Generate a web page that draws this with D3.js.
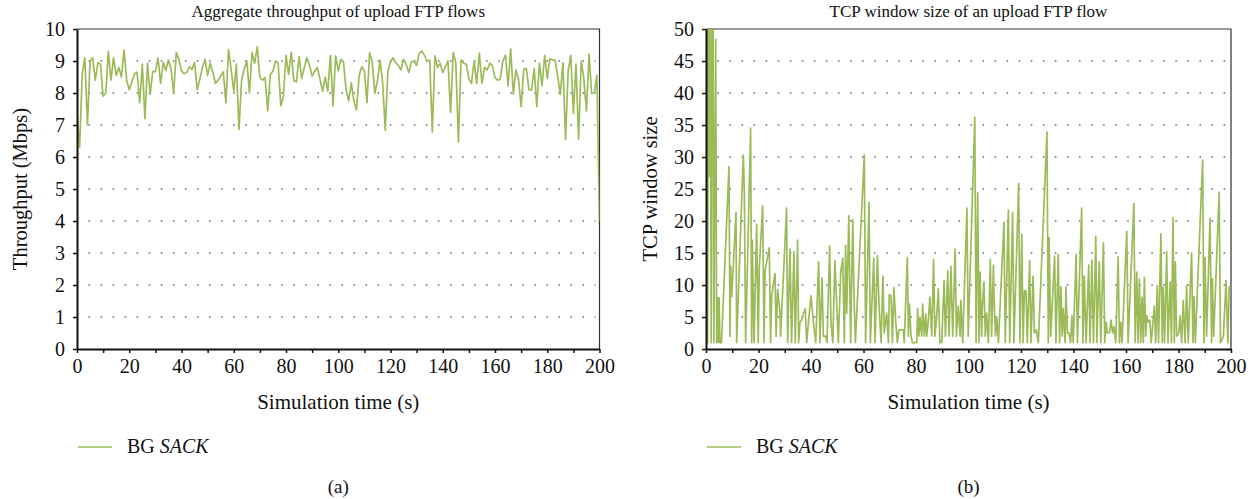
<!DOCTYPE html>
<html><head><meta charset="utf-8">
<script src="https://cdn.jsdelivr.net/npm/d3@7"></script>
<style>
body{margin:0;background:#fff;}
svg{display:block;}
svg text{font-family:"Liberation Serif","Times New Roman",serif !important;}
</style></head><body>
<svg id="chart" width="1257" height="499"></svg>
<script>
// ---------- data ----------
const seriesName = "BG";
const seriesNameItalic = "SACK";
const xTicks = [0,10,20,30,40,50,60,70,80,90,100,110,120,130,140,150,160,170,180,190,200];
const yTicksA = [0,1,2,3,4,5,6,7,8,9,10];
const yTicksB = [0,5,10,15,20,25,30,35,40,45,50];

// (a) aggregate throughput, one sample per second, t = 0..200 s
const throughput = [
7.39,6.3,8.6,9.1,7.0,9.0,9.1,8.4,8.95,8.9,
7.9,8.0,9.3,8.4,9.1,8.55,8.8,8.5,9.35,8.4,
8.1,8.35,8.6,8.65,7.7,8.9,7.2,8.93,7.96,8.67,
8.67,9.1,8.3,8.95,8.7,9.03,8.75,7.98,9.26,9.05,
8.69,8.6,8.64,8.82,8.74,8.95,8.1,8.43,8.8,9.05,
8.55,8.93,8.64,8.3,8.4,8.53,8.66,7.7,9.36,8.74,
8.06,8.9,6.86,8.4,8.74,9.0,8.0,9.26,8.93,9.45,
8.48,8.4,8.48,7.44,8.58,8.69,9.0,8.93,7.6,7.9,
9.18,8.58,9.28,8.38,8.35,9.14,8.45,8.8,9.1,8.86,
8.53,8.69,8.8,8.43,8.06,8.5,8.06,9.18,7.6,9.16,
8.69,9.05,8.97,8.1,7.75,8.32,7.75,7.47,8.55,8.82,
8.69,7.7,9.26,8.97,7.99,8.38,9.03,8.32,6.84,8.69,
8.97,9.1,8.95,8.86,8.72,9.05,8.9,8.64,8.97,9.0,
8.86,9.24,9.31,9.18,9.0,9.03,6.78,9.16,8.8,8.93,
8.64,8.82,9.0,7.39,9.26,8.95,6.47,9.03,8.93,8.9,
8.43,8.3,9.0,8.3,9.24,8.3,8.8,8.72,8.93,8.86,
8.48,8.4,8.43,9.0,9.18,8.22,9.38,7.96,8.72,8.43,
7.57,8.74,8.76,8.1,8.1,8.76,7.57,8.93,8.22,9.18,
8.45,9.07,9.03,9.03,8.53,7.96,8.95,6.55,8.69,9.18,
7.36,8.9,6.55,9.0,8.45,7.44,9.21,7.99,8.0,8.55,
4.0];

// (b) TCP window size samples (time in s, window size)
const windowTime = [
0,0.3,0.6,0.9,1.3,1.6,2.0,2.3,2.7,3.0,3.3,3.7,4.06,4.4,4.7,5.0,5.3,5.9,
8.76,9.14,9.4,9.78,11.43,11.68,14.22,14.6,15.1,17.0,17.4,17.65,18.29,19.3,19.9,20.3,21.6,22.1,22.5,24.1,24.6,25.0,26.3,26.7,27.3,28.2,28.4,
30.7,31.1,32.0,32.6,33.5,34.0,34.9,35.3,35.8,36.4,37.1,37.8,38.35,39.1,40.0,40.6,41.1,41.8,42.9,43.4,44.2,44.7,45.5,46.1,47.1,47.6,48.3,49.1,49.8,50.4,
51.3,52.1,52.7,53.2,53.6,54.4,55.1,55.9,56.4,56.9,60.3,60.8,62.1,62.6,63.9,64.4,65.3,65.9,66.7,67.4,67.9,68.8,69.5,69.8,70.5,71.0,71.6,72.3,72.9,73.5,75.2,75.5,
76.7,77.1,77.5,78.1,78.6,80.3,80.6,81.1,81.5,82.2,82.5,83.2,83.7,84.1,84.7,85.3,86.0,86.7,87.2,87.9,88.5,89.1,89.8,90.7,91.2,92.1,92.6,93.3,94.0,94.9,95.4,96.1,96.8,97.1,97.8,
99.4,99.9,102.4,102.9,103.5,104.0,104.4,105.0,105.3,105.9,106.4,106.9,107.6,108.3,108.8,109.5,109.8,110.3,110.8,111.4,113.5,114.0,115.2,115.7,116.8,117.3,119.1,119.6,120.3,120.8,121.3,121.9,122.4,123.3,123.8,124.6,125.1,125.8,126.6,
129.9,130.4,130.7,131.3,132.8,133.3,134.2,134.7,135.2,135.7,136.1,136.8,137.1,137.7,138.3,138.9,139.4,139.9,141.0,141.5,143.1,143.6,144.1,144.8,145.8,146.3,147.0,147.6,148.5,148.9,149.8,150.4,
151.4,151.9,152.4,152.9,153.7,154.3,154.9,155.4,156.1,157.0,157.5,158.0,158.5,160.3,160.8,163.0,163.5,164.1,164.6,165.1,165.6,166.1,166.6,167.0,167.5,167.9,168.5,169.1,169.6,170.8,171.3,171.9,172.4,
173.3,173.8,174.2,174.7,175.5,176.0,176.8,177.3,177.9,178.4,178.8,179.3,180.1,180.6,181.2,181.8,182.5,183.1,183.7,185.0,185.5,185.9,186.4,189.2,189.7,190.1,190.7,192.0,192.6,192.9,193.4,195.5,196.0,197.1,198.1,198.8,199.3,200];
const windowSize = [
16,50,1,50,27,50,1,50,50,1,24,48.4,1,8,1,8,1,1,
28.5,2,12.9,8.2,21.3,1,30.3,24.8,1,34.5,1,17,1,19.5,1,12.7,22.4,1,12.2,15.8,1,8.3,11.8,2,9.3,5.6,2,
22,1,15.6,1,15.2,1,17,1,4.2,4.5,5.6,6.3,1,4.5,8.3,5.6,3.5,1,13.6,1,11.1,2,2,1,16.1,4.2,1,13.8,7,1,
11.9,14.2,1,16.2,5.6,20.8,1,20.2,8.2,1,30.3,1,22.9,1,14.2,1,14.6,7,1,11.4,2.5,5.6,1,8.5,8.3,1,9.6,4.2,1,3,3,1,
14.3,2,7,2,1,1,6.3,2,5,2,7,2,5.5,2,4.5,8.1,2,14,2,5.2,9.4,1,1,10.7,2,12.2,2,12.9,2,15.6,2,6.7,2,7.6,1,
22,2,36.2,1,24.4,1,12,2,6.7,10.5,2,5.6,1,14,2,13.1,7,2,5,1,19.8,1,21.7,1,21.3,1,25.9,1,17.9,1,9.1,9.1,1,13.8,1,11.4,2.5,3,1,
33.9,1,17.4,2,14.5,1,14.8,1,9.7,2,6.3,1,9.7,2.5,2.5,1,5.2,1,14.8,1,22,1,11.4,1,13.1,1,13.9,1,17.6,1,13.6,1,
16.6,1,4.2,2.5,2.5,4.5,2.5,3.5,1,14.4,1,4.2,1,18.4,1,22.7,1,12,1,10.9,1,8.1,1,11.2,2,5.2,4.2,4.5,1,6.7,1,9.9,1,
18,1,9.6,1,15.2,1,10.5,1,20.5,1,13.6,2,2.5,5.2,1,7.6,1,9.9,1,15,1,8.2,1,29.5,1,14.3,2,20.4,1,11,2,24.5,1,2,10.7,1,9.7,9.5];

// ---------- drawing ----------
const svg = d3.select("#chart");
const lineColor = "#9bbb59";
const ink = "#111";

function panel(cfg){
  const g = svg.append("g");
  const x = d3.scaleLinear().domain([0,200]).range([cfg.left, cfg.right]);
  const y = d3.scaleLinear().domain([0, cfg.ymax]).range([cfg.bottom, cfg.top]);

  // dotted gridlines
  g.append("g").selectAll("line").data(cfg.yTicks.filter(v => v > 0 && v < cfg.ymax)).join("line")
    .attr("x1", cfg.left + 11.5).attr("x2", cfg.right - 4)
    .attr("y1", d => y(d)).attr("y2", d => y(d))
    .attr("stroke", "#666").attr("stroke-width", 1.5)
    .attr("stroke-dasharray", "1.5,10.55");

  // frame (top/right)
  g.append("path")
    .attr("d", `M${cfg.left},${cfg.top}H${cfg.right}V${cfg.bottom}`)
    .attr("fill","none").attr("stroke","#333").attr("stroke-width",1.2);

  // data line
  const clipId = "clip" + cfg.id;
  svg.append("clipPath").attr("id", clipId).append("rect")
    .attr("x", cfg.left).attr("y", cfg.top).attr("width", cfg.right - cfg.left).attr("height", cfg.bottom - cfg.top);
  const line = d3.line().x(d => x(d[0])).y(d => y(d[1]));
  g.append("path").datum(cfg.data)
    .attr("clip-path", `url(#${clipId})`)
    .attr("d", line).attr("fill","none")
    .attr("stroke", lineColor).attr("stroke-width", 1.7).attr("stroke-linejoin","round");

  // axes
  const ax = g.append("g").attr("transform", `translate(0,${cfg.bottom})`)
    .call(d3.axisBottom(x).tickValues(xTicks).tickSize(4).tickSizeOuter(0).tickPadding(6)
      .tickFormat(d => d % 20 === 0 ? d : ""));
  const ay = g.append("g").attr("transform", `translate(${cfg.left},0)`)
    .call(d3.axisLeft(y).tickValues(cfg.yTicks).tickSize(4).tickSizeOuter(0).tickPadding(8));
  [ax, ay].forEach(a => {
    a.attr("font-family", null).attr("font-size", null);
    a.selectAll(".domain").attr("stroke",ink).attr("stroke-width",2);
    a.selectAll(".tick line").attr("stroke",ink).attr("stroke-width",1.5);
    a.selectAll("text").attr("font-size",20).attr("fill",ink);
  });
  ay.selectAll("text").attr("dy","0.33em");

  // titles
  const cx = (cfg.left + cfg.right) / 2;
  g.append("text").attr("x", cx).attr("y", 17).attr("text-anchor","middle")
    .attr("font-size",17).attr("fill",ink).text(cfg.title);
  g.append("text").attr("x", cx).attr("y", 409).attr("text-anchor","middle")
    .attr("font-size",21).attr("fill",ink).text("Simulation time (s)");
  g.append("text").attr("transform", `translate(${cfg.ylabelX},${(cfg.top + cfg.bottom)/2}) rotate(-90)`)
    .attr("text-anchor","middle").attr("font-size",20.5).attr("fill",ink).text(cfg.ylabel);

  // legend
  g.append("line").attr("x1", cfg.left + 1).attr("x2", cfg.left + 35)
    .attr("y1", 447).attr("y2", 447).attr("stroke", lineColor).attr("stroke-width", 1.7);
  const lt = g.append("text").attr("x", cfg.left + 50).attr("y", 453).attr("font-size",20).attr("fill",ink);
  lt.append("tspan").text(seriesName + " ");
  lt.append("tspan").attr("font-style","italic").text(seriesNameItalic);

  // caption
  g.append("text").attr("x", cx).attr("y", 493).attr("text-anchor","middle")
    .attr("font-size",19).attr("fill",ink).text(cfg.caption);
}

panel({id:"a", left:77, right:599.5, top:29, bottom:349, ymax:10, yTicks:yTicksA,
  data: throughput.map((v,i) => [i, v]),
  title:"Aggregate throughput of upload FTP flows", ylabel:"Throughput (Mbps)", ylabelX:27, caption:"(a)"});
panel({id:"b", left:706, right:1231, top:29, bottom:349, ymax:50, yTicks:yTicksB,
  data: windowTime.map((t,i) => [t, windowSize[i]]),
  title:"TCP window size of an upload FTP flow", ylabel:"TCP window size", ylabelX:657, caption:"(b)"});
</script>
</body></html>
